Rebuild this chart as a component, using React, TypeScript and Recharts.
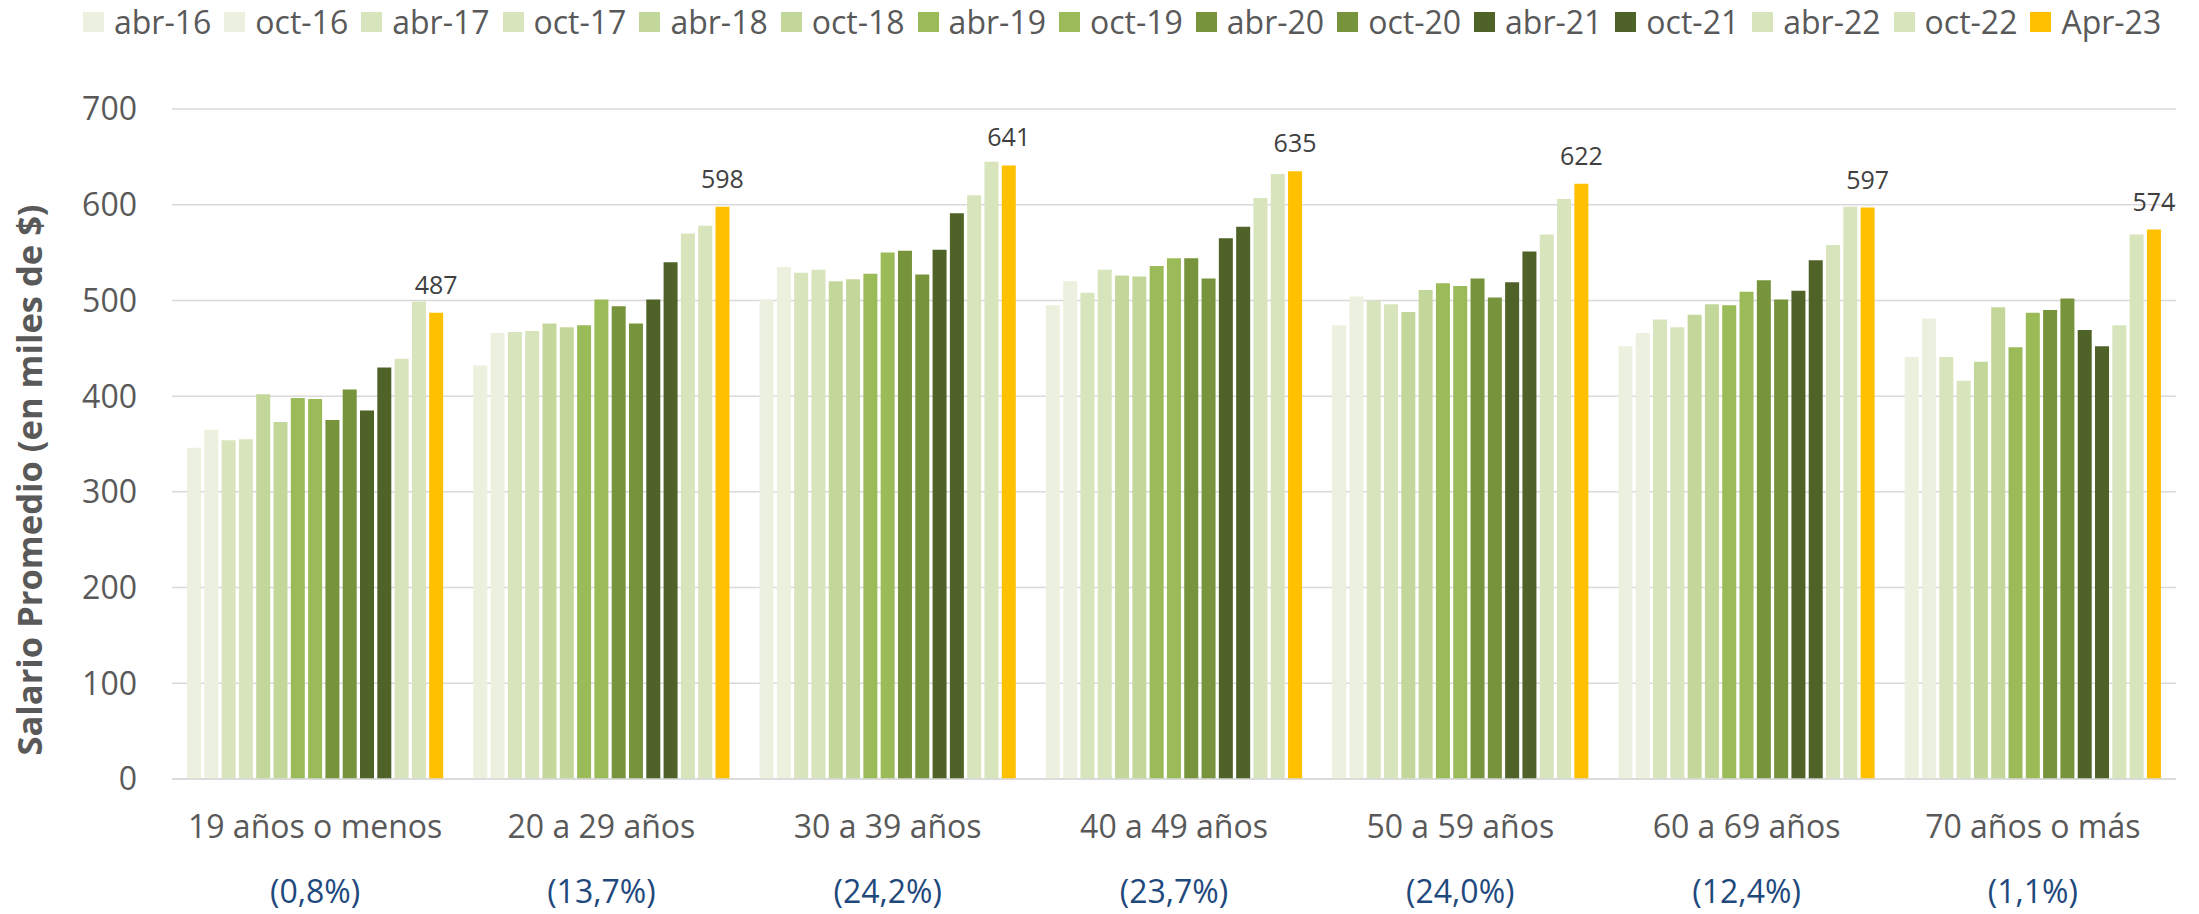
import React from 'react';
import { BarChart, Bar, XAxis, YAxis, CartesianGrid, Legend, LabelList, Label } from 'recharts';

const categories = ['19 años o menos', '20 a 29 años', '30 a 39 años', '40 a 49 años', '50 a 59 años', '60 a 69 años', '70 años o más'];
const shares = ['(0,8%)', '(13,7%)', '(24,2%)', '(23,7%)', '(24,0%)', '(12,4%)', '(1,1%)'];
const periods = ['abr-16', 'oct-16', 'abr-17', 'oct-17', 'abr-18', 'oct-18', 'abr-19', 'oct-19', 'abr-20', 'oct-20', 'abr-21', 'oct-21', 'abr-22', 'oct-22', 'Apr-23'];
const yTicks = [0, 100, 200, 300, 400, 500, 600, 700];

const abr16 = [346, 432, 501, 495, 474, 452, 441];
const oct16 = [365, 466, 535, 520, 504, 466, 481];
const abr17 = [354, 467, 529, 508, 500, 480, 441];
const oct17 = [355, 468, 532, 532, 496, 472, 416];
const abr18 = [402, 476, 520, 526, 488, 485, 436];
const oct18 = [373, 472, 522, 525, 511, 496, 493];
const abr19 = [398, 474, 528, 536, 518, 495, 451];
const oct19 = [397, 501, 550, 544, 515, 509, 487];
const abr20 = [375, 494, 552, 544, 523, 521, 490];
const oct20 = [407, 476, 527, 523, 503, 501, 502];
const abr21 = [385, 501, 553, 565, 519, 510, 469];
const oct21 = [430, 540, 591, 577, 551, 542, 452];
const abr22 = [439, 570, 610, 607, 569, 558, 474];
const oct22 = [499, 578, 645, 632, 606, 598, 569];
const apr23 = [487, 598, 641, 635, 622, 597, 574];

const seriesValues = [abr16, oct16, abr17, oct17, abr18, oct18, abr19, oct19, abr20, oct20, abr21, oct21, abr22, oct22, apr23];
const colors = ['#EBF1DE', '#EBF1DE', '#D8E4BC', '#D8E4BC', '#C4D79B', '#C4D79B', '#9BBB59', '#9BBB59', '#77933C', '#77933C', '#4F6228', '#4F6228', '#D8E4BC', '#D8E4BC', '#FFC000'];

const data = categories.map((c, i) => {
  const row: any = { category: c, share: shares[i] };
  periods.forEach((p, j) => {
    row[p] = seriesValues[j][i];
  });
  return row;
});

const FONT = "'Open Sans', 'Noto Sans', sans-serif";

const CategoryTick = (props: any) => {
  const { x, y, payload } = props;
  const idx = typeof props.index === 'number' ? props.index : categories.indexOf(payload.value);
  return (
    <g>
      <text x={x} y={y + 59} textAnchor="middle" fontFamily={FONT} fontSize={32} fill="#595959">
        {payload.value}
      </text>
      <text x={x} y={y + 124} textAnchor="middle" fontFamily={FONT} fontSize={32} fill="#1F497D">
        {shares[idx]}
      </text>
    </g>
  );
};

const LegendContent = () => (
  <div
    style={{
      display: 'flex',
      alignItems: 'flex-start',
      paddingLeft: 83,
      paddingTop: 2,
      height: 109,
      boxSizing: 'border-box',
      fontFamily: FONT,
      fontSize: 32,
      lineHeight: '40px',
      color: '#595959',
      whiteSpace: 'nowrap',
    }}
  >
    {periods.map((p, i) => (
      <div key={p} style={{ display: 'flex', alignItems: 'flex-start', marginRight: 13 }}>
        <span style={{ display: 'inline-block', width: 21, height: 20, marginTop: 10, marginRight: 10, background: colors[i] }} />
        <span>{p}</span>
      </div>
    ))}
  </div>
);

const YTitle = (props: any) => {
  const vb = props.viewBox || { x: 0, y: 109, width: 172, height: 670 };
  const cx = vb.x + 42;
  const cy = vb.y + vb.height / 2 + 36;
  return (
    <text
      x={cx}
      y={cy}
      transform={`rotate(-90 ${cx} ${cy})`}
      textAnchor="middle"
      fontFamily={FONT}
      fontWeight={700}
      fontSize={34.5}
      fill="#595959"
    >
      Salario Promedio (en miles de $)
    </text>
  );
};

export default function App() {
  return (
    <div style={{ position: 'absolute', left: 0, top: 0, width: 2199, height: 914, background: '#FFFFFF', overflow: 'hidden' }}>
      <BarChart
        width={2199}
        height={914}
        data={data}
        margin={{ top: 0, right: 23, bottom: 0, left: 0 }}
        barSize={14}
        barGap={3.3}
      >
        <CartesianGrid vertical={false} stroke="#D9D9D9" strokeWidth={1.5} />
        <Legend
          verticalAlign="top"
          align="left"
          wrapperStyle={{ top: 0, left: 0, width: 2199, height: 109 }}
          content={() => <LegendContent />}
        />
        <XAxis
          dataKey="category"
          interval={0}
          tickLine={false}
          tickSize={0}
          tickMargin={0}
          height={135}
          axisLine={{ stroke: '#D9D9D9', strokeWidth: 1.5 }}
          tick={<CategoryTick />}
        />
        <YAxis
          domain={[0, 700]}
          ticks={yTicks}
          interval={0}
          tickLine={false}
          axisLine={false}
          tickSize={0}
          tickMargin={35}
          width={172}
          tick={{ fontSize: 32, fill: '#595959', fontFamily: FONT }}
        >
          <Label content={<YTitle />} />
        </YAxis>
        {periods.map((p, i) => (
          <Bar key={p} dataKey={p} fill={colors[i]} isAnimationActive={false}>
            {p === 'Apr-23' ? (
              <LabelList dataKey={p} position="top" offset={19} fill="#404040" fontSize={25} fontFamily={FONT} />
            ) : null}
          </Bar>
        ))}
      </BarChart>
    </div>
  );
}
